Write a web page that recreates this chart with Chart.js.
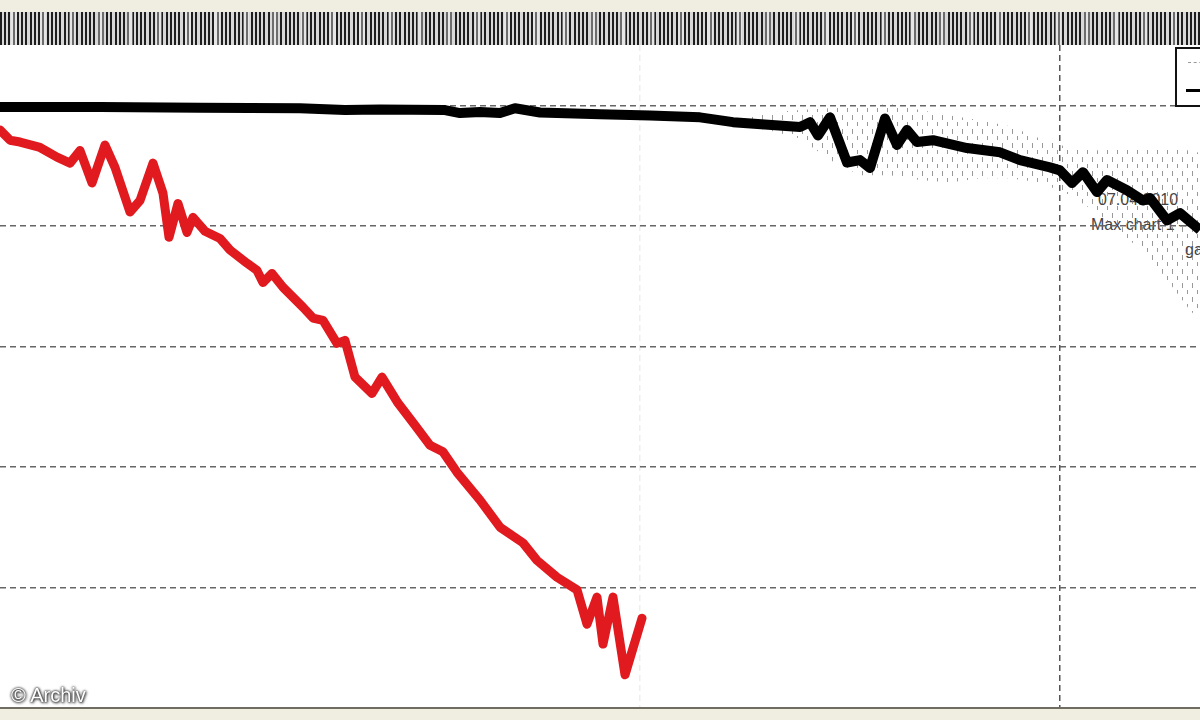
<!DOCTYPE html>
<html>
<head>
<meta charset="utf-8">
<script src="https://cdn.jsdelivr.net/npm/chart.js@4.4.0/dist/chart.umd.min.js"></script>
<style>
  html, body { margin: 0; padding: 0; }
  body { width: 1200px; height: 720px; background: #efeee1; position: relative; overflow: hidden; font-family: "Liberation Sans", Arial, sans-serif; }
  #band { position: absolute; left: 0; top: 12px; width: 1200px; height: 33px;
    background:
      repeating-linear-gradient(90deg, rgba(255,255,255,0) 0 11px, rgba(255,255,255,0.35) 11px 17px, rgba(255,255,255,0) 17px 29px),
      repeating-linear-gradient(90deg, #1e1e1e 0 1.8px, #d8d8d8 1.8px 4.25px); }
  #plot { position: absolute; left: 0; top: 45px; width: 1200px; height: 663px; background: #fff; }
  #bottomline { position: absolute; left: 0; top: 707px; width: 1200px; height: 2px; background: #6f6d62; }
  .note { position: absolute; color: #444; font-size: 16px; white-space: nowrap; }
  #legend { position: absolute; left: 1175px; top: 47px; width: 40px; height: 56px; border: 2px solid #111; background: #fff; }
  #wm { position: absolute; left: 11px; top: 684px; font-size: 20px; color: #fff;
    text-shadow: 0 0 2px #222, 0 0 3px #444, 1px 1px 3px #333; }
</style>
</head>
<body>
<div id="band"></div>
<div id="plot">
  <span class="note" style="left:1098px;top:146px;">07.04.2010</span>
  <span class="note" style="left:1091px;top:171px;">Max chart 1 &mdash;</span>
  <span class="note" style="left:1185px;top:196px;">ga</span>
  <div style="position:absolute;left:0;top:0;width:1200px;height:663px;"><canvas id="chart"></canvas></div>
</div>
<div id="legend">
  <div style="position:absolute;left:11px;top:13px;width:20px;border-top:1px dashed #999;"></div>
  <div style="position:absolute;left:9px;top:40px;width:20px;border-top:3px solid #000;"></div>
</div>
<div id="bottomline"></div>
<div id="wm">© Archiv</div>
<script>
// values (x: time units, y: level)
var redX = [0, 1, 2, 4, 5.7, 7, 8, 9.2, 10.5, 11.5, 13, 14, 15.3, 16.3, 16.9, 17.8, 18.7, 19.3, 20.5, 22,
  23, 24.7, 25.7, 26.3, 27.2, 28.3, 30.3, 31.3, 32.3, 33.7, 34.5, 35.5, 37.2, 38.2, 39.8, 41.5, 43, 44.3,
  45.7, 48, 50, 52.3, 53.7, 55.7, 57.7, 58.7, 59.7, 60.3, 61.3, 62.5, 64.2];
var redY = [95.9, 94.2, 93.9, 93.0, 91.4, 90.4, 92.5, 87.1, 93.4, 89.7, 82.3, 84.2, 90.4, 85.4, 78.1, 83.7, 78.9, 81.4, 79.1, 77.9,
  76.0, 73.8, 72.6, 70.6, 72.1, 69.8, 66.5, 64.7, 64.3, 60.5, 61.0, 54.9, 52.2, 54.9, 50.6, 46.9, 43.6, 42.5,
  39.1, 34.5, 30.0, 27.4, 24.5, 21.7, 19.6, 13.9, 18.4, 10.6, 18.4, 5.5, 14.9];

var blackX = [0, 10, 20, 30, 34.5, 38, 44.5, 46, 48, 50, 51.5, 54, 60, 65, 70, 73.3, 80, 81, 81.8, 83,
  84.7, 86, 87, 88.5, 89.7, 90.7, 91.7, 93.3, 96.7, 100, 102, 105, 106, 107.2, 108.3, 109.7, 110.7, 112.7,
  114.3, 115, 116.7, 118, 120, 121];
var blackY = [99.7, 99.7, 99.6, 99.5, 99.2, 99.3, 99.2, 98.7, 98.9, 98.7, 99.5, 98.8, 98.5, 98.3, 98.0, 97.2, 96.4, 97.2, 95.0, 98.0,
  90.5, 90.9, 89.6, 97.8, 93.4, 95.9, 93.9, 94.2, 92.9, 92.2, 90.9, 89.7, 89.2, 87.1, 88.9, 85.6, 87.6, 85.9,
  84.2, 84.6, 80.9, 82.1, 79.3, 77.6];

// spread of the grey scatter around the black curve
var bandX = [74, 77, 80, 83, 86, 89, 92, 95, 98, 101, 104, 107, 110, 113, 116, 119, 121];
var bandHigh = [97.5, 98.8, 99.2, 99.5, 99.8, 100.2, 99.2, 98.3, 97.5, 96.5, 94.5, 92.9, 92.5, 92.9, 92.9, 92.5, 91.7];
var bandLow = [96.5, 95.8, 94.5, 90.9, 88.4, 88.4, 87.6, 87.2, 87.9, 87.9, 87.2, 85.1, 81.8, 77.6, 72.6, 66.0, 62.7];

var yGrid = [20, 40, 60, 80, 100];
var xGrid = [64, 106];

function pts(xs, ys) {
  var out = [];
  for (var i in xs) out.push({x: xs[i], y: ys[i]});
  return out;
}

// little vertical dashes, like the grey scatter
var pc = document.createElement('canvas');
pc.width = 10; pc.height = 14;
var pctx = pc.getContext('2d');
pctx.strokeStyle = 'rgba(110,110,110,0.7)';
pctx.lineWidth = 1;
pctx.beginPath();
pctx.moveTo(2.5, 0); pctx.lineTo(2.5, 5);
pctx.moveTo(7.5, 7); pctx.lineTo(7.5, 11);
pctx.stroke();
var dashPattern = document.getElementById('chart').getContext('2d').createPattern(pc, 'repeat');

var ctx = document.getElementById('chart');
var chart = new Chart(ctx, {
  type: 'line',
  data: {
    datasets: [
      { label: 'high', data: pts(bandX, bandHigh), borderWidth: 0, pointRadius: 0, fill: 1, backgroundColor: dashPattern, order: 5 },
      { label: 'low', data: pts(bandX, bandLow), borderWidth: 0, pointRadius: 0, fill: false, order: 6 },
      { label: 'red', data: pts(redX, redY), borderColor: '#e11a1f', borderWidth: 9, pointRadius: 0, tension: 0, fill: false, order: 2,
        borderJoinStyle: 'round', borderCapStyle: 'round' },
      { label: 'black', data: pts(blackX, blackY), borderColor: '#000', borderWidth: 10, pointRadius: 0, tension: 0, fill: false, order: 1,
        borderJoinStyle: 'round' }
    ]
  },
  options: {
    responsive: true,
    maintainAspectRatio: false,
    animation: false,
    layout: { padding: 0 },
    plugins: { legend: { display: false }, tooltip: { enabled: false } },
    scales: {
      x: {
        type: 'linear', min: 0, max: 120,
        ticks: { display: false },
        grid: { drawTicks: false, lineWidth: 1.5,
          color: function(c) { return c.tick && c.tick.value === 64 ? '#eeeeee' : '#555'; } },
        border: { display: false, dash: [6, 4] },
        afterBuildTicks: function(s) { s.ticks = xGrid.map(function(v) { return {value: v}; }); },
        afterFit: function(s) { s.height = 0; }
      },
      y: {
        min: 0, max: 110,
        ticks: { display: false },
        grid: { drawTicks: false, lineWidth: 1.5, color: '#666' },
        border: { display: false, dash: [6, 4] },
        afterBuildTicks: function(s) { s.ticks = yGrid.map(function(v) { return {value: v}; }); },
        afterFit: function(s) { s.width = 0; }
      }
    }
  }
});
</script>
</body>
</html>
